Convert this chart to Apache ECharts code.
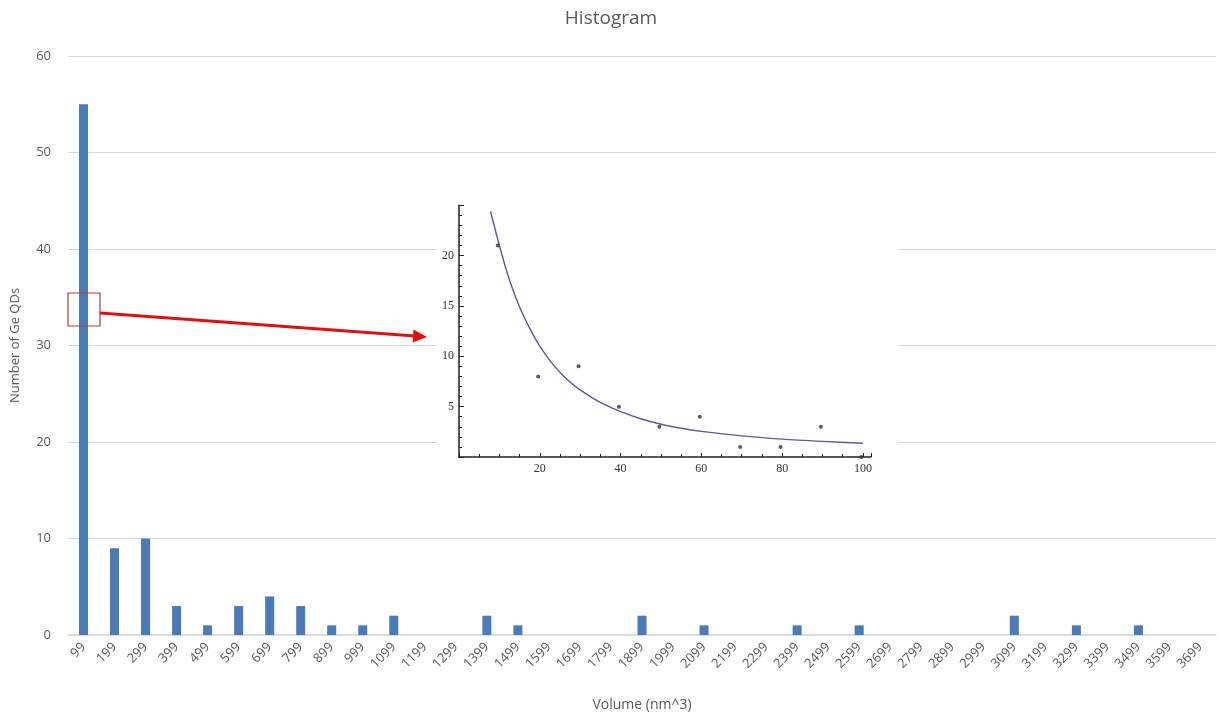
<!DOCTYPE html>
<html>
<head>
<meta charset="utf-8">
<script src="https://cdn.jsdelivr.net/npm/echarts@6/dist/echarts.min.js"></script>
<style>html,body{margin:0;padding:0;background:#fff;}#c{width:1222px;height:715px;}</style>
</head>
<body>
<div id="c"></div>
<script>
// Main histogram data
const volumeBins = ['99','199','299','399','499','599','699','799','899','999','1099','1199','1299','1399','1499','1599','1699','1799','1899','1999','2099','2199','2299','2399','2499','2599','2699','2799','2899','2999','3099','3199','3299','3399','3499','3599','3699'];
const counts = [55,9,10,3,1,3,4,3,1,1,2,0,0,2,1,0,0,0,2,0,1,0,0,1,0,1,0,0,0,0,2,0,1,0,1,0,0];

// Inset: measured points
const insetX = [9.6,19.6,29.6,39.6,49.6,59.6,69.6,79.6,89.6,99.6];
const insetY = [21,8,9,5,3,4,1,1,3,0];
// Inset: fitted curve
const fitX = [7.8,10,12,14,16,18,20,22,24,26,28,30,33,36,40,45,50,55,60,70,80,90,100];
const fitY = [24.4,21.0,18.2,15.9,14.0,12.4,11.0,9.85,8.85,8.0,7.28,6.66,5.88,5.22,4.5,3.8,3.25,2.85,2.55,2.1,1.78,1.55,1.36];

const chart = echarts.init(document.getElementById('c'), null, {renderer:'canvas'});
const grey = '#595959';
const serif = 'Liberation Serif';

const option = {
  backgroundColor: '#fff',
  animation: false,
  title: {
    text: 'Histogram', left: 'center', top: 4,
    textStyle: {fontSize: 19, fontWeight: 'normal', color: grey, fontFamily: 'Open Sans'}
  },
  grid: [
    {left: 68, right: 6, top: 56, bottom: 80, outerBoundsMode: 'none', containLabel: false},
    {left: 459, top: 205.25, width: 412, height: 251.75, outerBoundsMode: 'none', containLabel: false}
  ],
  xAxis: [
    {
      type: 'category', data: volumeBins, gridIndex: 0,
      name: 'Volume (nm^3)', nameLocation: 'middle', nameGap: 63,
      nameTextStyle: {color: grey, fontSize: 14, fontFamily: 'Open Sans'},
      axisLine: {lineStyle: {color: '#d9d9d9', width: 1.5}},
      axisTick: {show: false},
      axisLabel: {rotate: 45, color: grey, fontSize: 13, interval: 0, margin: 10, fontFamily: 'Open Sans'}
    },
    {
      type: 'value', gridIndex: 1, min: 0, max: 102, interval: 20, z: 5,
      axisLine: {lineStyle: {color: '#222', width: 1.5}},
      axisTick: {inside: true, length: 4, lineStyle: {color: '#222'}},
      minorTick: {show: true, splitNumber: 4, length: 3, lineStyle: {color: '#222'}},
      axisLabel: {color: '#333', fontSize: 12, fontFamily: serif, showMinLabel: false, showMaxLabel: false, margin: 6},
      splitLine: {show: false}
    }
  ],
  yAxis: [
    {
      type: 'value', gridIndex: 0, min: 0, max: 60, interval: 10,
      name: 'Number of Ge QDs', nameLocation: 'middle', nameGap: 46, nameRotate: 90,
      nameTextStyle: {color: grey, fontSize: 13, fontFamily: 'Open Sans'},
      axisLine: {show: false}, axisTick: {show: false},
      axisLabel: {color: grey, fontSize: 13, margin: 17, fontFamily: 'Open Sans'},
      splitLine: {lineStyle: {color: '#d9d9d9', width: 1}}
    },
    {
      type: 'value', gridIndex: 1, min: 0, max: 25, interval: 5, z: 5,
      axisLine: {show: true, lineStyle: {color: '#222', width: 1.5}},
      axisTick: {show: true, inside: true, length: 5, lineStyle: {color: '#222'}},
      minorTick: {show: true, splitNumber: 5, length: 3, lineStyle: {color: '#222'}},
      axisLabel: {color: '#333', fontSize: 12, fontFamily: serif, showMinLabel: false, showMaxLabel: false, margin: 5},
      splitLine: {show: false}
    }
  ],
  series: [
    {
      type: 'bar', xAxisIndex: 0, yAxisIndex: 0, data: counts,
      barWidth: 9, itemStyle: {color: '#4a7ab8'}
    },
    {
      type: 'line', xAxisIndex: 1, yAxisIndex: 1, z: 6,
      data: fitX.map((x, i) => [x, fitY[i]]),
      smooth: 0.3, showSymbol: false, symbol: 'none',
      lineStyle: {color: '#5a5a9c', width: 1.4}
    },
    {
      type: 'scatter', xAxisIndex: 1, yAxisIndex: 1, z: 7,
      data: insetX.map((x, i) => [x, insetY[i]]),
      symbolSize: 4, itemStyle: {color: '#333'}
    }
  ],
  graphic: [
    {type: 'rect', z: 1, shape: {x: 437, y: 195, width: 461, height: 290}, style: {fill: '#fff'}},
    {type: 'rect', z: 10, shape: {x: 68, y: 293, width: 32, height: 33}, style: {fill: 'none', stroke: '#b83a3a', lineWidth: 1.2}},
    {type: 'line', z: 10, shape: {x1: 100, y1: 313, x2: 415, y2: 336}, style: {stroke: '#e01010', lineWidth: 3}},
    {type: 'polygon', z: 10, shape: {points: [[427, 337], [412.6, 342.5], [413.5, 329.5]]}, style: {fill: '#e01010'}}
  ]
};
chart.setOption(option);
</script>
</body>
</html>
